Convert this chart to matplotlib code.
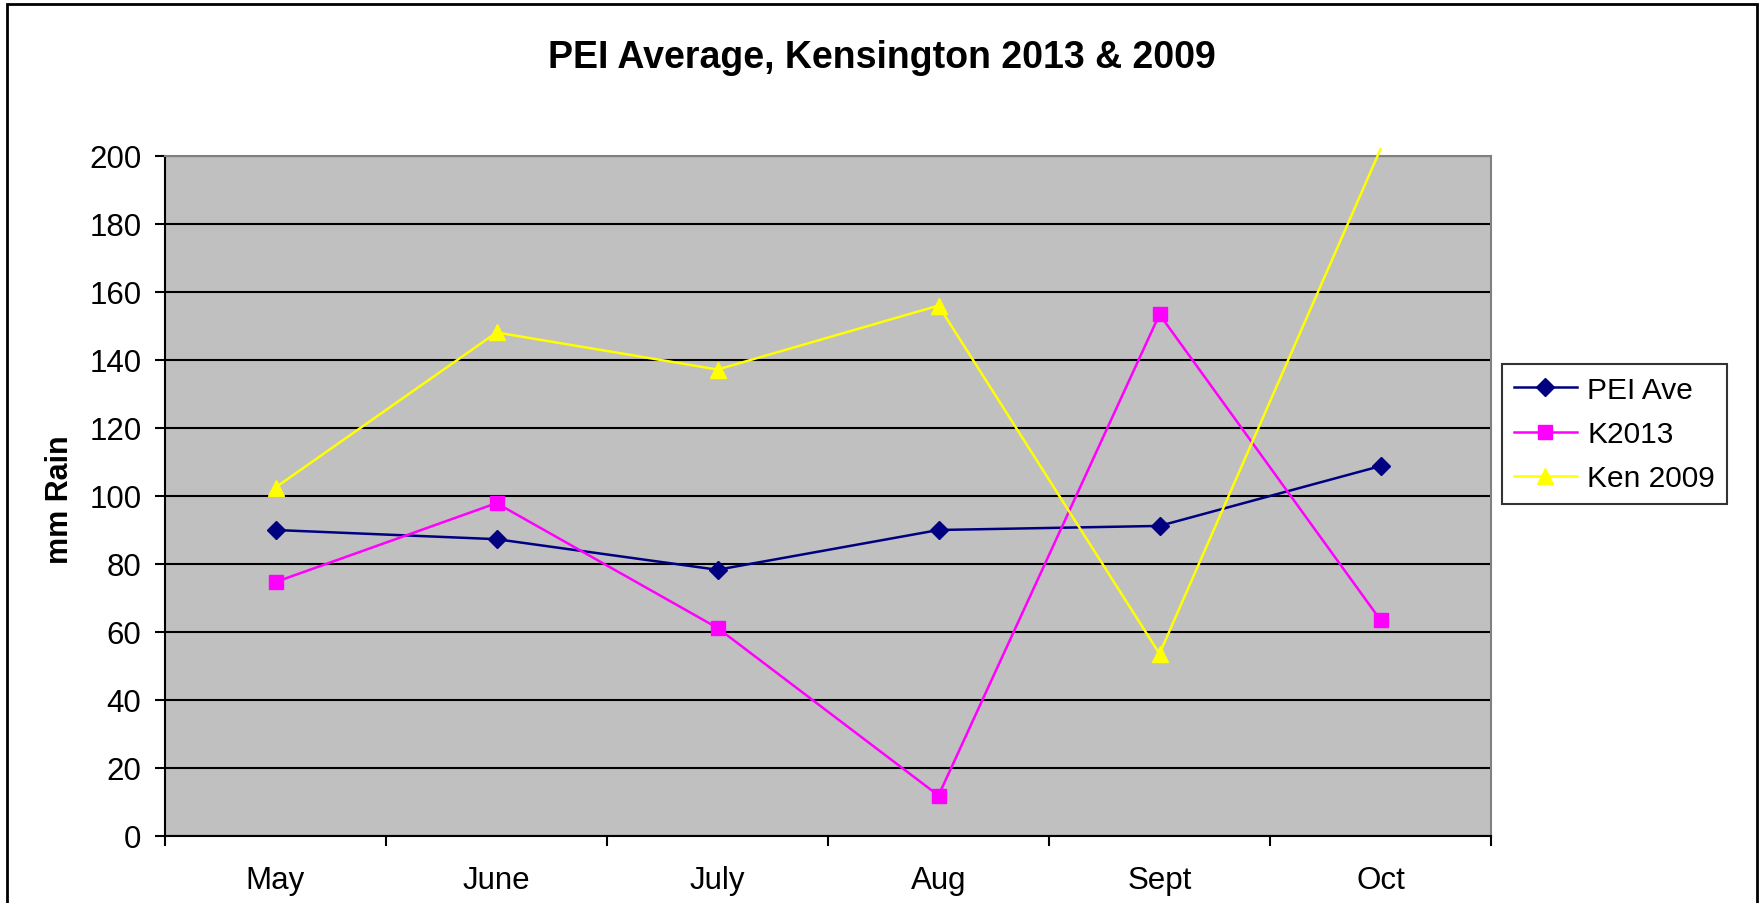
import matplotlib
matplotlib.use("Agg")
import matplotlib.pyplot as plt
from matplotlib import font_manager
from matplotlib.patches import Rectangle

months = ["May", "June", "July", "Aug", "Sept", "Oct"]
pei_ave = [90, 87.3, 78.3, 90, 91.2, 108.8]
k2013 = [74.7, 97.9, 61.2, 11.9, 153.4, 63.5]
ken2009 = [102.5, 148.1, 137.2, 156, 53.6, 202]

names = sorted(set(f.name for f in font_manager.fontManager.ttflist))
narrow = "Liberation Sans Narrow" if "Liberation Sans Narrow" in names else None

plt.rcParams["font.family"] = ["Liberation Sans", "DejaVu Sans"]

W, H = 1759, 904
fig = plt.figure(figsize=(W / 100, H / 100), dpi=100)
ax = fig.add_axes([165 / W, 1 - 837 / H, (1491 - 165) / W, (837 - 157) / H])
ax.set_facecolor("#c0c0c0")

x = list(range(len(months)))
ax.plot(x, pei_ave, color="#000080", lw=1.8, marker="D", ms=9, label="PEI Ave", zorder=4)
ax.plot(x, k2013, color="#ff00ff", lw=1.8, marker="s", ms=10, label="K2013", zorder=4)
# Oct value runs past the axis top; the line goes on, the marker is not drawn
ax.plot(x, ken2009, color="#ffff00", lw=1.8, marker="^", ms=12, label="Ken 2009",
        markevery=list(range(len(months) - 1)), clip_on=False, zorder=4)

ax.set_ylim(0, 200)
ax.set_yticks(range(0, 201, 20))
ax.yaxis.grid(True, color="black", lw=1.5)
ax.set_axisbelow(True)
ax.tick_params(axis="y", direction="out", length=7, width=1.5, labelsize=22.5, pad=10)

ax.set_xlim(-0.5, len(months) - 0.5)
ax.set_xticks([i - 0.5 for i in range(len(months) + 1)])
ax.set_xticklabels([])
ax.set_xticks(x, minor=True)
ax.set_xticklabels(months, minor=True)
ax.tick_params(axis="x", which="major", direction="out", length=7, width=1.5)
ax.tick_params(axis="x", which="minor", length=0, labelsize=22.5, pad=21)

for s in ["top", "right"]:
    ax.spines[s].set_color("#808080")
    ax.spines[s].set_linewidth(1.5)
for s in ["left", "bottom"]:
    ax.spines[s].set_color("black")
    ax.spines[s].set_linewidth(1.5)

fig.text(0.034, 0.447, "mm Rain", rotation=90, ha="center", va="center",
         fontsize=22, fontweight="bold")
if narrow:
    fig.text(882 / W, 1 - 58 / H, "PEI Average, Kensington 2013 & 2009", ha="center",
             va="center", fontsize=33, fontweight="bold", family=[narrow, "DejaVu Sans"])
else:
    fig.text(882 / W, 1 - 58 / H, "PEI Average, Kensington 2013 & 2009", ha="center",
             va="center", fontsize=27, fontweight="bold")

leg = fig.legend(loc="center left", bbox_to_anchor=(1502 / W, 1 - 435 / H), fontsize=21.5,
                 frameon=True, fancybox=False, edgecolor="black", handlelength=2.1,
                 handletextpad=0.35, labelspacing=0.55, borderpad=0.4, borderaxespad=0)
leg.get_frame().set_linewidth(1.5)

fig.patches.append(Rectangle((7 / W, -0.01), (1757 - 7) / W, 1 - 5 / H + 0.01,
                             transform=fig.transFigure, fill=False, edgecolor="black", lw=2))

fig.savefig("out.png", dpi=100)
